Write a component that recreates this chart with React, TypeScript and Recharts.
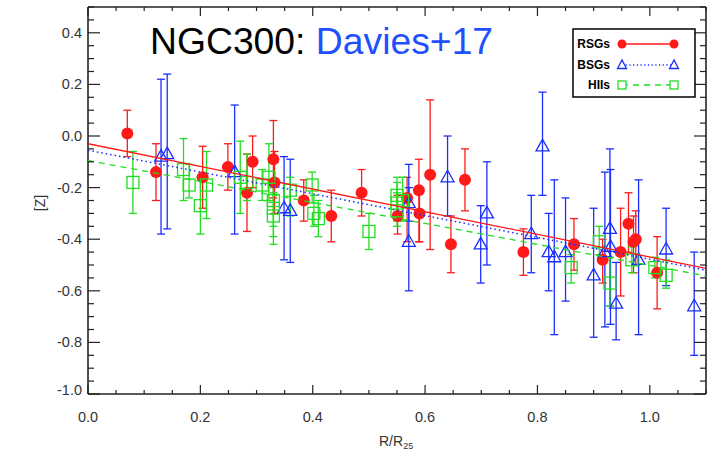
import { ScatterChart, Scatter, XAxis, YAxis, ErrorBar } from 'recharts';

// NGC300 metallicity gradient — RSGs / BSGs / HII regions (Davies+17)

const RED = '#ff1a1a';
const BLUE = '#1a2eff';
const GREEN = '#22dd22';
const AXIS = '#222';

// RSGs
const rsgX = [0.07, 0.121, 0.204, 0.249, 0.283, 0.293, 0.33, 0.332, 0.384, 0.433, 0.487, 0.551, 0.568, 0.589, 0.59, 0.609, 0.646, 0.671, 0.775, 0.865, 0.916, 0.948, 0.962, 0.971, 0.975, 1.013];
const rsgY = [0.01, -0.14, -0.16, -0.12, -0.22, -0.1, -0.09, -0.18, -0.25, -0.31, -0.22, -0.31, -0.24, -0.21, -0.3, -0.15, -0.42, -0.17, -0.45, -0.42, -0.48, -0.45, -0.34, -0.41, -0.4, -0.53];
const rsgLo = [-0.08, -0.25, -0.28, -0.21, -0.37, -0.2, -0.24, -0.3, -0.33, -0.41, -0.31, -0.38, -0.41, -0.41, -0.41, -0.44, -0.53, -0.29, -0.54, -0.52, -0.57, -0.62, -0.45, -0.53, -0.5, -0.67];
const rsgHi = [0.1, -0.03, -0.04, -0.03, -0.07, 0.0, 0.06, -0.06, -0.17, -0.21, -0.13, -0.23, -0.16, -0.09, -0.2, 0.14, -0.31, -0.05, -0.36, -0.32, -0.4, -0.28, -0.22, -0.31, -0.29, -0.39];

// BSGs
const bsgX = [0.13, 0.141, 0.261, 0.349, 0.36, 0.571, 0.571, 0.64, 0.699, 0.71, 0.789, 0.809, 0.82, 0.83, 0.85, 0.9, 0.92, 0.929, 0.93, 0.94, 0.98, 1.029, 1.079];
const bsgY = [-0.08, -0.07, -0.14, -0.28, -0.29, -0.26, -0.41, -0.16, -0.42, -0.3, -0.38, -0.04, -0.45, -0.47, -0.45, -0.54, -0.45, -0.36, -0.43, -0.65, -0.48, -0.44, -0.66];
const bsgLo = [-0.38, -0.36, -0.38, -0.48, -0.49, -0.33, -0.6, -0.31, -0.57, -0.5, -0.53, -0.23, -0.6, -0.77, -0.64, -0.78, -0.74, -0.66, -0.73, -0.79, -0.77, -0.58, -0.85];
const bsgHi = [0.22, 0.24, 0.12, -0.08, -0.09, -0.2, -0.11, 0.0, -0.27, -0.1, -0.23, 0.17, -0.3, -0.17, -0.24, -0.28, -0.14, -0.05, -0.13, -0.49, -0.17, -0.28, -0.45];

// HII regions
const hiiX = [0.08, 0.17, 0.18, 0.2, 0.211, 0.271, 0.283, 0.31, 0.322, 0.33, 0.33, 0.33, 0.36, 0.399, 0.402, 0.41, 0.5, 0.55, 0.55, 0.55, 0.56, 0.86, 0.91, 0.929, 0.968, 1.009, 1.029];
const hiiY = [-0.18, -0.13, -0.19, -0.27, -0.19, -0.16, -0.18, -0.19, -0.16, -0.25, -0.28, -0.31, -0.21, -0.19, -0.3, -0.32, -0.37, -0.23, -0.26, -0.29, -0.25, -0.51, -0.41, -0.57, -0.48, -0.51, -0.54];
const hiiLo = [-0.3, -0.25, -0.24, -0.38, -0.32, -0.3, -0.25, -0.25, -0.25, -0.42, -0.35, -0.39, -0.31, -0.26, -0.35, -0.39, -0.44, -0.31, -0.33, -0.35, -0.33, -0.57, -0.46, -0.66, -0.53, -0.55, -0.59];
const hiiHi = [-0.06, -0.01, -0.11, -0.16, -0.06, -0.02, -0.07, -0.13, -0.03, -0.17, -0.2, -0.22, -0.16, -0.14, -0.23, -0.25, -0.3, -0.16, -0.18, -0.22, -0.16, -0.46, -0.35, -0.47, -0.43, -0.47, -0.48];

// linear fits (end points)
const fitX = [0, 1.1];
const rsgFitY = [-0.03, -0.513];
const bsgFitY = [-0.055, -0.52];
const hiiFitY = [-0.095, -0.542];

// axes
const xTicks = [0, 0.05, 0.1, 0.15, 0.2, 0.25, 0.3, 0.35, 0.4, 0.45, 0.5, 0.55, 0.6, 0.65, 0.7, 0.75, 0.8, 0.85, 0.9, 0.95, 1.0, 1.05, 1.1];
const xMajor = [0, 0.2, 0.4, 0.6, 0.8, 1.0];
const yTicks = [-1.0, -0.95, -0.9, -0.85, -0.8, -0.75, -0.7, -0.65, -0.6, -0.55, -0.5, -0.45, -0.4, -0.35, -0.3, -0.25, -0.2, -0.15, -0.1, -0.05, 0, 0.05, 0.1, 0.15, 0.2, 0.25, 0.3, 0.35, 0.4, 0.45, 0.5];
const yMajor = [-1.0, -0.8, -0.6, -0.4, -0.2, 0, 0.2, 0.4];

const build = (xs: number[], ys: number[], lo: number[], hi: number[]) =>
  xs.map((x, i) => ({ x, y: ys[i], err: [ys[i] - lo[i], hi[i] - ys[i]] }));
const line = (ys: number[]) => fitX.map((x, i) => ({ x, y: ys[i] }));

const rsgData = build(rsgX, rsgY, rsgLo, rsgHi);
const bsgData = build(bsgX, bsgY, bsgLo, bsgHi);
const hiiData = build(hiiX, hiiY, hiiLo, hiiHi);

const isMajor = (v: number, list: number[]) => list.some((m) => Math.abs(m - v) < 1e-6);

const XTick = ({ x, y, payload, side }: any) => {
  const v = payload.value;
  const major = isMajor(v, xMajor);
  const len = major ? 9 : 4;
  const dir = side === 'bottom' ? -1 : 1;
  return (
    <g>
      <line x1={x} x2={x} y1={y} y2={y + dir * len} stroke={AXIS} strokeWidth={1.2} />
      {side === 'bottom' && major && (
        <text x={x} y={y + 28} textAnchor="middle" fontSize={14.5} fill="#333">
          {v.toFixed(1)}
        </text>
      )}
    </g>
  );
};

const YTick = ({ x, y, payload, side }: any) => {
  const v = payload.value;
  const major = isMajor(v, yMajor);
  const len = major ? 12 : 6;
  const dir = side === 'left' ? 1 : -1;
  return (
    <g>
      <line x1={x} x2={x + dir * len} y1={y} y2={y} stroke={AXIS} strokeWidth={1.2} />
      {side === 'left' && major && (
        <text x={x - 6} y={y + 5 - (v <= -0.99 ? 4 : 0)} textAnchor="end" fontSize={14.5} fill="#333">
          {v.toFixed(1)}
        </text>
      )}
    </g>
  );
};

const Dot = ({ cx, cy }: any) => <circle cx={cx} cy={cy} r={6} fill={RED} />;
const Tri = ({ cx, cy }: any) => (
  <polygon points={`${cx},${cy - 7} ${cx - 6.5},${cy + 4.5} ${cx + 6.5},${cy + 4.5}`} fill="none" stroke={BLUE} strokeWidth={1.3} />
);
const Sq = ({ cx, cy }: any) => (
  <rect x={cx - 6} y={cy - 6} width={12} height={12} fill="none" stroke={GREEN} strokeWidth={1.3} />
);
const Nothing = () => <g />;

export default function App() {
  return (
    <div style={{ position: 'absolute', left: 0, top: 0, width: 708, height: 452, background: '#fff', fontFamily: '"Liberation Sans", Arial, sans-serif' }}>
      <ScatterChart width={708} height={452} margin={{ top: 6, right: 1, bottom: 28, left: 28 }}>
        <XAxis xAxisId="b" type="number" dataKey="x" domain={[0, 1.1]} ticks={xTicks} interval={0}
          height={30} tickSize={0} tickMargin={0} axisLine={{ stroke: AXIS, strokeWidth: 1.6 }} tickLine={false}
          tick={<XTick side="bottom" />} allowDataOverflow />
        <XAxis xAxisId="t" orientation="top" type="number" dataKey="x" domain={[0, 1.1]} ticks={xTicks} interval={0}
          height={1} tickSize={0} tickMargin={0} axisLine={{ stroke: AXIS, strokeWidth: 1.6 }} tickLine={false}
          tick={<XTick side="top" />} allowDataOverflow />
        <YAxis yAxisId="l" type="number" dataKey="y" domain={[-1.0, 0.5]} ticks={yTicks} interval={0}
          width={60} tickSize={0} tickMargin={0} axisLine={{ stroke: AXIS, strokeWidth: 1.6 }} tickLine={false}
          tick={<YTick side="left" />} allowDataOverflow />
        <YAxis yAxisId="r" orientation="right" type="number" dataKey="y" domain={[-1.0, 0.5]} ticks={yTicks} interval={0}
          width={1} tickSize={0} tickMargin={0} axisLine={{ stroke: AXIS, strokeWidth: 1.6 }} tickLine={false}
          tick={<YTick side="right" />} allowDataOverflow />

        <Scatter name="RSGs" data={rsgData} xAxisId="b" yAxisId="l" shape={<Dot />} isAnimationActive={false}>
          <ErrorBar dataKey="err" direction="y" width={4} stroke={RED} strokeWidth={1.3} isAnimationActive={false} />
        </Scatter>
        <Scatter name="BSGs" data={bsgData} xAxisId="b" yAxisId="l" shape={<Tri />} isAnimationActive={false}>
          <ErrorBar dataKey="err" direction="y" width={4} stroke={BLUE} strokeWidth={1.3} isAnimationActive={false} />
        </Scatter>
        <Scatter name="HIIs" data={hiiData} xAxisId="b" yAxisId="l" shape={<Sq />} isAnimationActive={false}>
          <ErrorBar dataKey="err" direction="y" width={4} stroke={GREEN} strokeWidth={1.3} isAnimationActive={false} />
        </Scatter>

        <Scatter data={line(rsgFitY)} xAxisId="t" yAxisId="r" line={{ stroke: RED, strokeWidth: 1.3 }} shape={<Nothing />} isAnimationActive={false} />
        <Scatter data={line(bsgFitY)} xAxisId="t" yAxisId="r" line={{ stroke: BLUE, strokeWidth: 1.5, strokeDasharray: '1.5 3' }} shape={<Nothing />} isAnimationActive={false} />
        <Scatter data={line(hiiFitY)} xAxisId="t" yAxisId="r" line={{ stroke: GREEN, strokeWidth: 1.3, strokeDasharray: '6 5' }} shape={<Nothing />} isAnimationActive={false} />
      </ScatterChart>

      <svg width={708} height={452} style={{ position: 'absolute', left: 0, top: 0, pointerEvents: 'none' }}>
        <text x={150} y={53.5} fontSize={37.3} fill="#000">
          NGC300:<tspan fill="#1f4fff"> Davies+17</tspan>
        </text>

        <rect x={573} y={29} width={122} height={68} fill="#fff" stroke="#000" strokeWidth={1.5} />
        <text x={610} y={48} textAnchor="end" fontSize={12} fontWeight="bold">RSGs</text>
        <line x1={622} x2={674} y1={44} y2={44} stroke={RED} strokeWidth={1.3} />
        <circle cx={622} cy={44} r={4.5} fill={RED} />
        <circle cx={674} cy={44} r={4.5} fill={RED} />
        <text x={610} y={69} textAnchor="end" fontSize={12} fontWeight="bold">BSGs</text>
        <line x1={622} x2={674} y1={65} y2={65} stroke={BLUE} strokeWidth={1.3} strokeDasharray="1.2 2.5" />
        <polygon points="622,60 617.5,68.5 626.5,68.5" fill="#fff" stroke={BLUE} strokeWidth={1.3} />
        <polygon points="674,60 669.5,68.5 678.5,68.5" fill="#fff" stroke={BLUE} strokeWidth={1.3} />
        <text x={610} y={89} textAnchor="end" fontSize={12} fontWeight="bold">HIIs</text>
        <line x1={622} x2={674} y1={85} y2={85} stroke={GREEN} strokeWidth={1.3} strokeDasharray="6 5" />
        <rect x={618} y={81} width={8} height={8} fill="#fff" stroke={GREEN} strokeWidth={1.3} />
        <rect x={670} y={81} width={8} height={8} fill="#fff" stroke={GREEN} strokeWidth={1.3} />

        <text x={0} y={0} transform="translate(45,203) rotate(-90)" textAnchor="middle" fontSize={14} fill="#333">[Z]</text>
        <text x={379} y={446} fontSize={14} fill="#333">
          R/R<tspan fontSize={9} dy={3}>25</tspan>
        </text>
      </svg>
    </div>
  );
}
